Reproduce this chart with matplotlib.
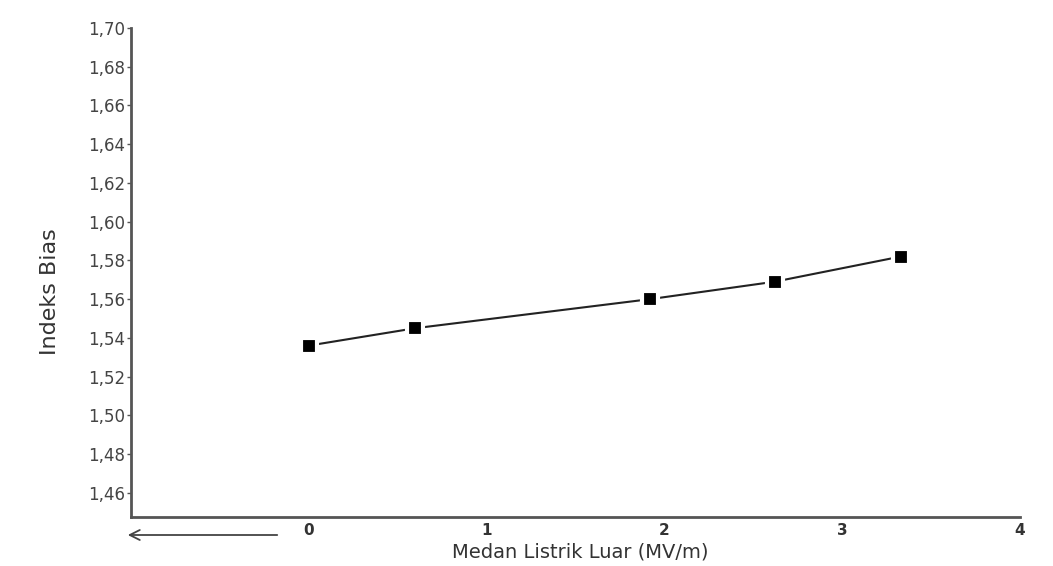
import numpy as np
import matplotlib.pyplot as plt
from matplotlib.ticker import FuncFormatter

# Data
medan = [0.0, 0.6, 1.92, 2.62, 3.33]          # MV/m
indeks = [1.536, 1.545, 1.560, 1.569, 1.582]  # refractive index
y_ticks = np.round(np.arange(1.46, 1.701, 0.02), 2)
x_ticks = [0, 1, 2, 3, 4]

fig = plt.figure(figsize=(10.53, 5.66), dpi=100)
ax = fig.add_axes([0.1244, 0.0866, 0.8443, 0.8639])

ax.plot(medan, indeks, '-', color='#222222', lw=1.5, marker='s', ms=11,
        mfc='black', mec='white', mew=3)

ax.set_xlim(-1, 4)
ax.set_ylim(1.4475, 1.70)
ax.set_yticks(y_ticks)
ax.yaxis.set_major_formatter(FuncFormatter(lambda v, p: f"{v:.2f}".replace('.', ',')))
ax.set_xticks(x_ticks)
ax.set_xticklabels([str(t) for t in x_ticks], fontweight='bold')

for s in ['top', 'right']:
    ax.spines[s].set_visible(False)
for s in ['left', 'bottom']:
    ax.spines[s].set_color('#555555')
    ax.spines[s].set_linewidth(2)

ax.tick_params(axis='y', length=3, width=1, color='#555555', pad=1,
               labelsize=12, labelcolor='#444444')
ax.tick_params(axis='x', length=0, pad=4, labelsize=11, labelcolor='#333333')

ax.set_ylabel('Indeks Bias', fontsize=16, color='#333333')
ax.yaxis.set_label_coords(-0.08, 0.46)
ax.set_xlabel('Medan Listrik Luar (MV/m)', fontsize=14, color='#333333')
ax.xaxis.set_label_coords(0.505, -0.052)

# arrow below the axis pointing left
ax.annotate('', xy=(125 / 1053, 1 - 535 / 566), xycoords='figure fraction',
            xytext=(280 / 1053, 1 - 535 / 566), textcoords='figure fraction',
            arrowprops=dict(arrowstyle='->', color='#444444', lw=1.3,
                            mutation_scale=18))

fig.savefig('out.png', dpi=100)
